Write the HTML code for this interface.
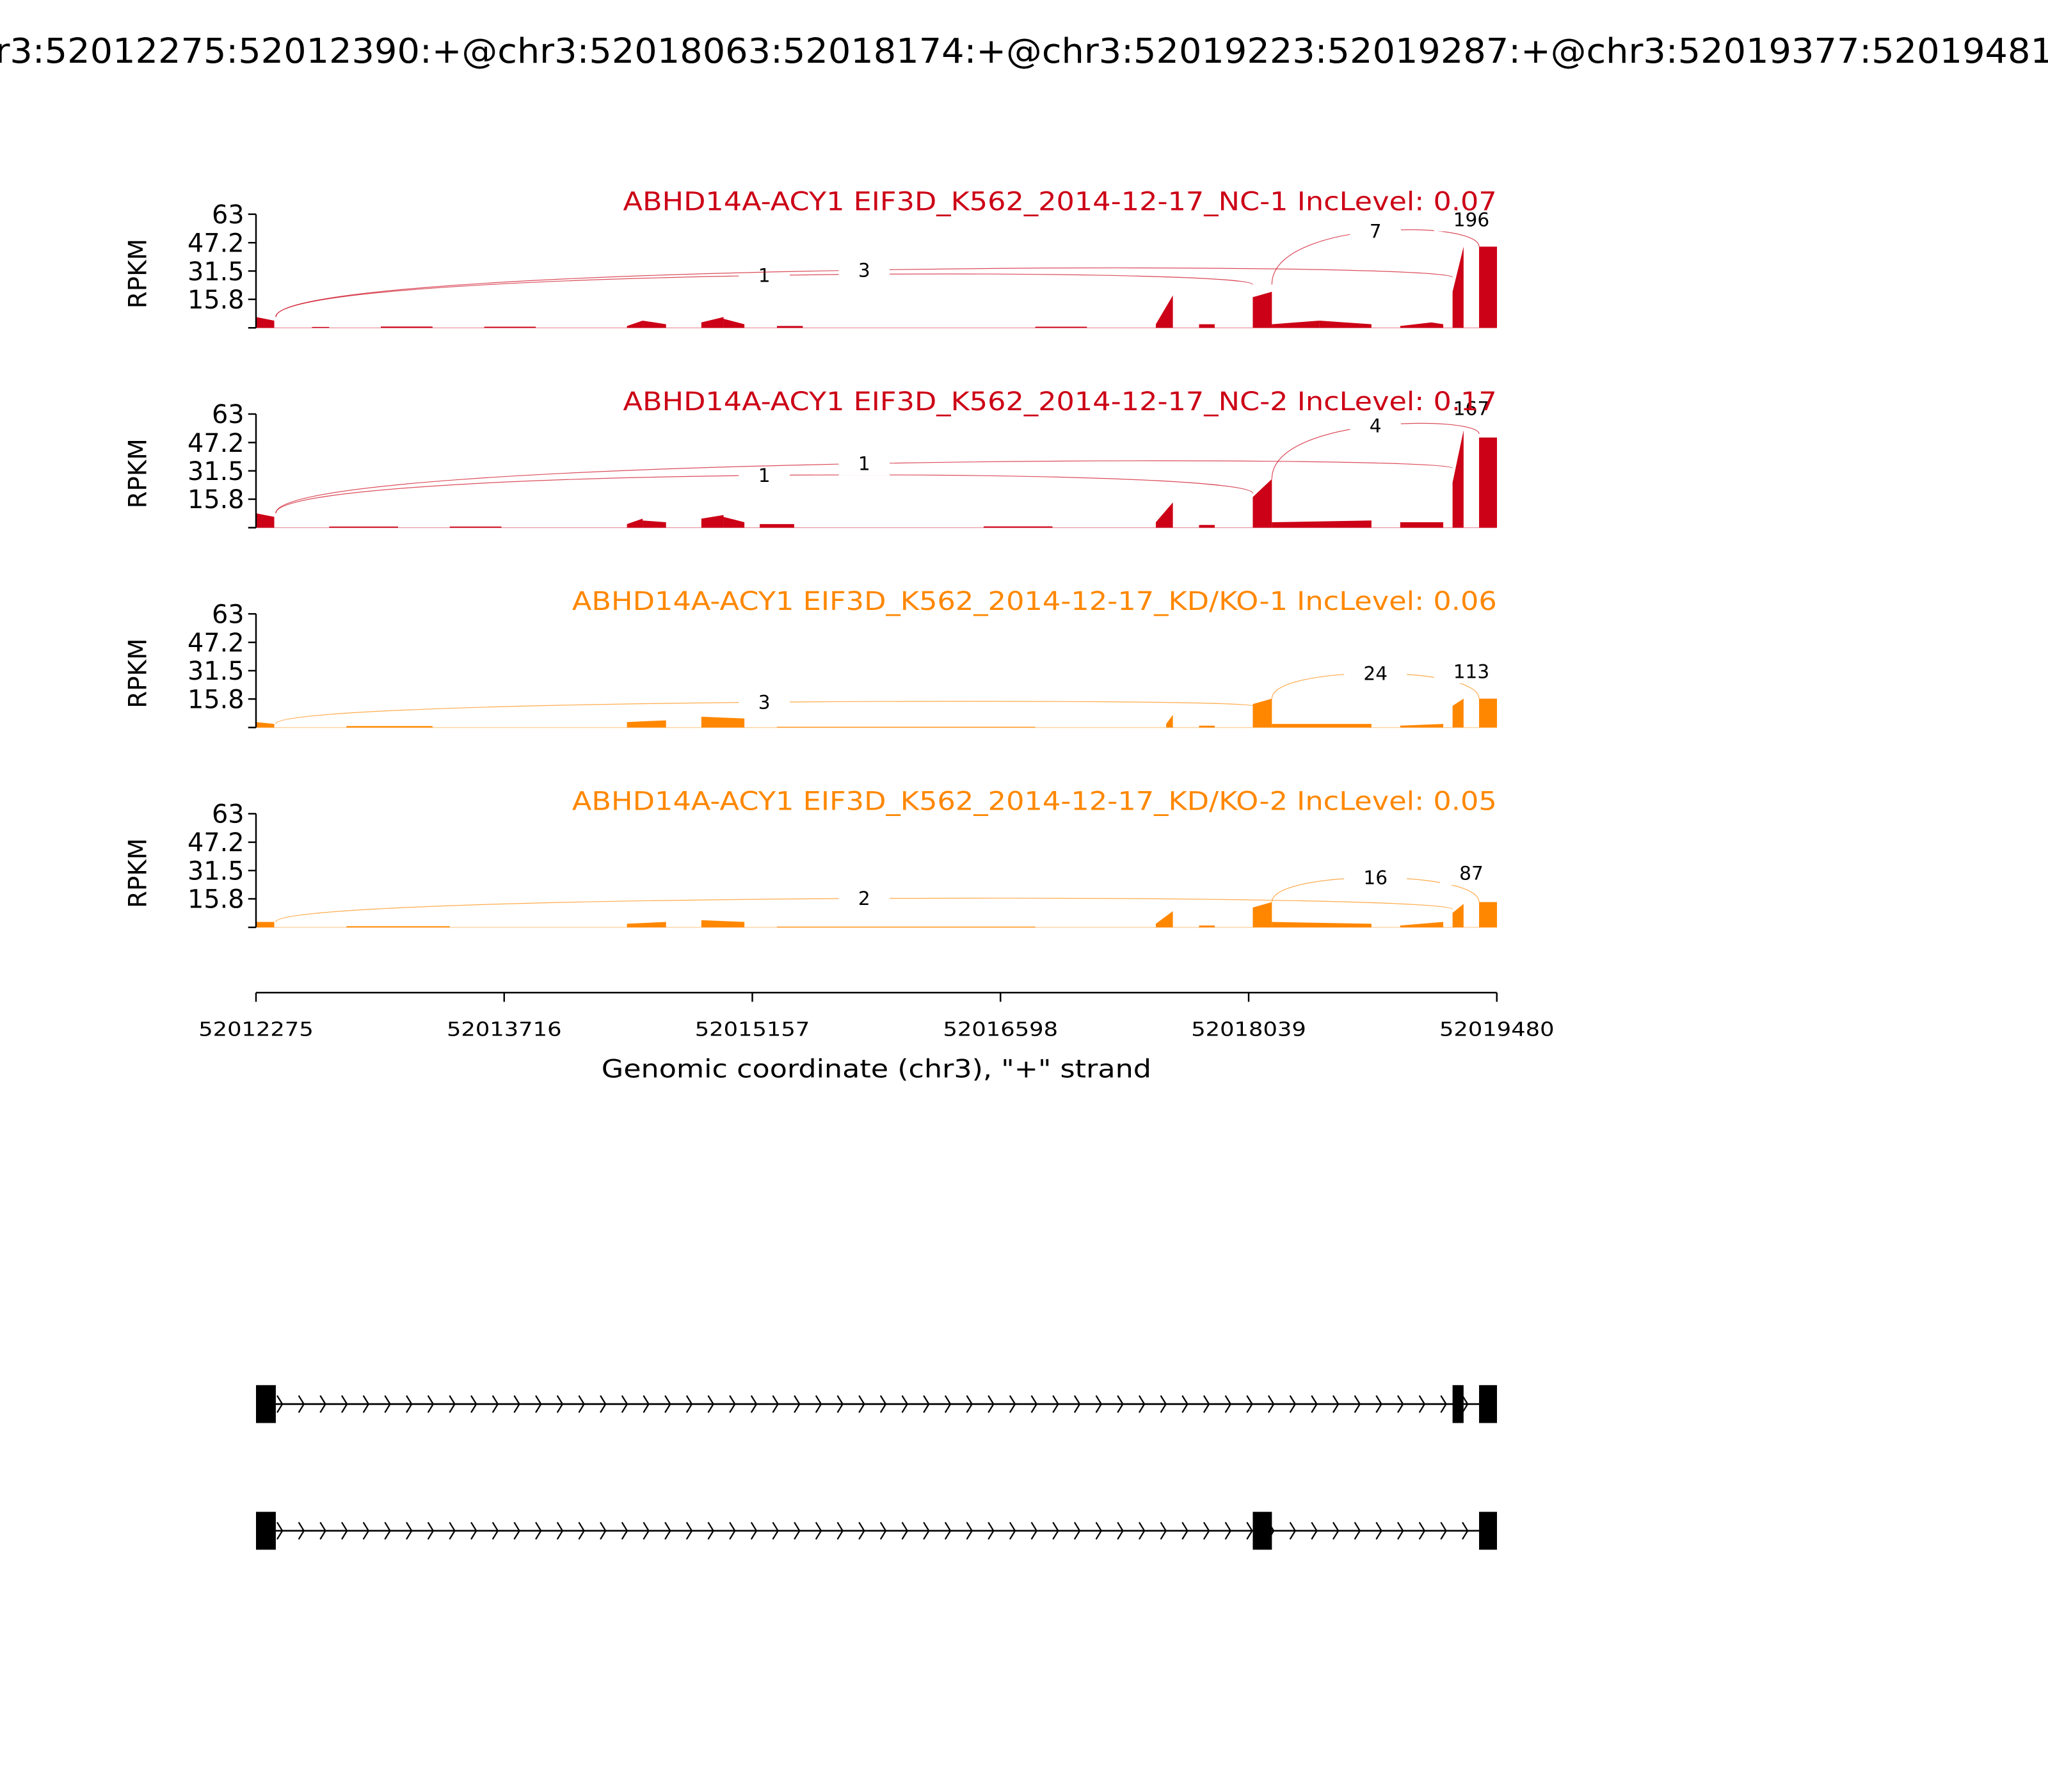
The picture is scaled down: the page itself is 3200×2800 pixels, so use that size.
<!DOCTYPE html>
<html><head><meta charset="utf-8"><style>html,body{margin:0;padding:0;background:#fff}svg{display:block}text{font-family:"DejaVu Sans","Liberation Sans",sans-serif}</style></head>
<body>
<svg id="chart" xmlns="http://www.w3.org/2000/svg" width="3200" height="2800" viewBox="0 0 1568 1372">
<rect width="1568" height="1372" fill="#fff"/>
<text x="784" y="48" font-size="26" text-anchor="middle" textLength="1640" lengthAdjust="spacingAndGlyphs">chr3:52012275:52012390:+@chr3:52018063:52018174:+@chr3:52019223:52019287:+@chr3:52019377:52019481:+</text>
<g id="panels"></g>
<g id="xaxis"></g>
<g id="genes"></g>
</svg>
<script>
const G0 = 52012275, G1 = 52019480;
const xTicks = [52012275, 52013716, 52015157, 52016598, 52018039, 52019480];
const yTicks = [15.8, 31.5, 47.2, 63];
const sampleNames = ["ABHD14A-ACY1 EIF3D_K562_2014-12-17_NC-1 IncLevel: 0.07","ABHD14A-ACY1 EIF3D_K562_2014-12-17_NC-2 IncLevel: 0.17","ABHD14A-ACY1 EIF3D_K562_2014-12-17_KD/KO-1 IncLevel: 0.06","ABHD14A-ACY1 EIF3D_K562_2014-12-17_KD/KO-2 IncLevel: 0.05"];
const sampleColors = ["#cc0016","#cc0016","#ff8700","#ff8700"];
// coverage segments [start, end, valueStart, valueEnd]
const cov1 = [[52012275,52012381,6,4],[52012600,52012700,0.5,0.5],[52013000,52013300,0.7,0.7],[52013600,52013900,0.6,0.6],[52014429,52014520,1,4],[52014520,52014656,4,2],[52014861,52014990,3,6],[52014990,52015111,5,2],[52015300,52015450,1,1],[52016800,52017100,0.6,0.6],[52017500,52017599,2,18],[52017751,52017842,2,2],[52018063,52018174,17,20],[52018174,52018450,2,4],[52018450,52018752,4,2],[52018919,52019100,1,3],[52019100,52019169,3,2],[52019223,52019287,20,45],[52019377,52019481,45,45]];
const cov2 = [[52012275,52012381,8,6],[52012700,52013100,0.6,0.6],[52013400,52013700,0.6,0.6],[52014429,52014520,2,5],[52014520,52014656,4,3],[52014861,52014990,5,7],[52014990,52015111,6,3],[52015200,52015400,2,2],[52016500,52016900,0.7,0.7],[52017500,52017599,3,14],[52017751,52017842,1.5,1.5],[52018063,52018174,17,27],[52018174,52018752,3,4],[52018919,52019169,3,3],[52019223,52019287,25,54],[52019377,52019481,50,50]];
const cov3 = [[52012275,52012381,3,2],[52012800,52013300,0.8,0.8],[52014429,52014656,3,4],[52014861,52015111,6,5],[52015300,52016800,0.4,0.4],[52017560,52017599,2,7],[52017751,52017842,1,1],[52018063,52018174,13,16],[52018174,52018752,2,2],[52018919,52019169,1,2],[52019223,52019287,12,16],[52019377,52019481,16,16]];
const cov4 = [[52012275,52012381,3,3],[52012800,52013400,0.6,0.6],[52014429,52014656,2,3],[52014861,52015111,4,3],[52015300,52016800,0.4,0.4],[52017500,52017599,2,9],[52017751,52017842,1,1],[52018063,52018174,11,14],[52018174,52018752,3,2],[52018919,52019169,1,3],[52019223,52019287,8,13],[52019377,52019481,14,14]];
// junctions [donor, acceptor, count, heightAtDonor, heightAtAcceptor, arcPeak]
const junc1 = [[52012390,52018063,1,6,24,29],[52012390,52019223,3,6,28,32],[52018174,52019377,7,24,45,53.6],[52019287,52019377,196,45,45,60]];
const junc2 = [[52012390,52018063,1,8,19,29],[52012390,52019223,1,8,33,35.5],[52018174,52019377,4,27,52,56.5],[52019287,52019377,167,52,52,66]];
const junc3 = [[52012390,52018063,3,2,12,14],[52018174,52019377,24,16,16,30],[52019287,52019377,113,16,16,31]];
const junc4 = [[52012390,52019223,2,3,10,16],[52018174,52019377,16,14,14,27.5],[52019287,52019377,87,14,14,30]];
const covs=[cov1,cov2,cov3,cov4], juncs=[junc1,junc2,junc3,junc4];
const transcript1 = [[52012275,52012390],[52019223,52019287],[52019377,52019481]];
const transcript2 = [[52012275,52012390],[52018063,52018174],[52019377,52019481]];

const NS="http://www.w3.org/2000/svg";
const XL=196, XR=1146;
const xs = g => XL + (g-G0)/(G1-G0)*(XR-XL);
const panelBase=[251,404,557,710], PH=87, YMAX=63;
function mk(tag, attrs, parent){const e=document.createElementNS(NS,tag);for(const k in attrs)e.setAttribute(k,attrs[k]);parent.appendChild(e);return e;}
const panels=document.getElementById('panels');
covs.forEach((cov,i)=>{
  const base=panelBase[i], col=sampleColors[i];
  const ys=v=>base-Math.min(v,YMAX)/YMAX*PH;
  const g=mk('g',{},panels);
  
  
  const bl=mk('line',{x1:XL,x2:XR,y1:base,y2:base,stroke:col,'stroke-width':0.6,opacity:0.4},g);
  
  
  cov.forEach(s=>{
    const p=mk('polygon',{points:`${xs(s[0])},${base} ${xs(s[0])},${ys(s[2])} ${xs(s[1])},${ys(s[3])} ${xs(s[1])},${base}`,fill:col},g);
    
    
  });
  juncs[i].forEach(j=>{
    const x1=xs(j[0]), x2=xs(j[1]), y1=ys(j[3]), y2=ys(j[4]), ym=base-j[5]/YMAX*PH;
    const yc=(ym-(y1+y2)/8)/0.75;
    const xm=(x1+x2)/2, lbl=String(j[2]);
    if(x2-x1>100){
      const a=mk('path',{d:`M${x1},${y1} C${x1},${yc} ${x2},${yc} ${x2},${y2}`,fill:'none',stroke:col,'stroke-width':0.6,opacity:0.7},g);
      
      
    }
    const w=lbl.length*9+30;
    mk('rect',{x:xm-w/2,y:ym-9,width:w,height:18,fill:'#fff'},g);
    const t=mk('text',{x:xm,y:ym+5,'font-size':14.5,'text-anchor':'middle',fill:'#000'},g);
    t.textContent=lbl;
    
    
  });
  const ax=mk('g',{},g);
  
  
  mk('line',{x1:XL,x2:XL,y1:base-PH,y2:base,stroke:'#000','stroke-width':1.2},ax);
  mk('line',{x1:XL-6,x2:XL,y1:base,y2:base,stroke:'#000','stroke-width':1.2},ax);
  yTicks.forEach(v=>{
    const y=base-v/YMAX*PH;
    mk('line',{x1:XL-6,x2:XL,y1:y,y2:y,stroke:'#000','stroke-width':1.2},ax);
    const t=mk('text',{x:XL-9,y:y+7,'font-size':19.5,'text-anchor':'end'},ax);
    t.textContent=v;
    
    
  });
  const yl=mk('text',{x:0,y:0,'font-size':19,'text-anchor':'middle',transform:`translate(112,${base-PH/2+2}) rotate(-90)`},ax);
  yl.textContent='RPKM';
  
  
  const tw = i<2 ? 669 : 708;
  const tt=mk('text',{x:XR,y:base-90,'font-size':19.5,'text-anchor':'end',fill:col,textLength:tw,lengthAdjust:'spacingAndGlyphs'},g);
  tt.textContent=sampleNames[i];
  
  
});
const xa=document.getElementById('xaxis');
mk('line',{x1:XL,x2:XR,y1:760,y2:760,stroke:'#000','stroke-width':1.2},xa);
xTicks.forEach(v=>{
  const x=xs(v);
  mk('line',{x1:x,x2:x,y1:760,y2:767,stroke:'#000','stroke-width':1.2},xa);
  const t=mk('text',{x:x,y:793,'font-size':15,'text-anchor':'middle',textLength:88,lengthAdjust:'spacingAndGlyphs'},xa);
  t.textContent=v;
  
  
});
const xt=mk('text',{x:671,y:825,'font-size':19,'text-anchor':'middle',textLength:421,lengthAdjust:'spacingAndGlyphs'},xa);
xt.textContent='Genomic coordinate (chr3), "+" strand';


const gm=document.getElementById('genes');
[[transcript1,1075],[transcript2,1172]].forEach(([tr,y],k)=>{
  const g=mk('g',{},gm);
  
  
  const xa0=xs(tr[0][1]), xb=xs(tr[tr.length-1][0]);
  mk('line',{x1:xa0,x2:xb,y1:y,y2:y,stroke:'#000','stroke-width':1.3},g);
  for(let x=xa0+1;x<xb-4;x+=16.5){
    mk('polyline',{points:`${x},${y-6.5} ${x+4},${y} ${x},${y+6.5}`,fill:'none',stroke:'#000','stroke-width':1.1},g);
  }
  tr.forEach(e=>{
    const r=mk('rect',{x:xs(e[0]),y:y-14.5,width:xs(e[1])-xs(e[0]),height:29,fill:'#000'},g);
    
    
  });
});
</script>
</body></html>
